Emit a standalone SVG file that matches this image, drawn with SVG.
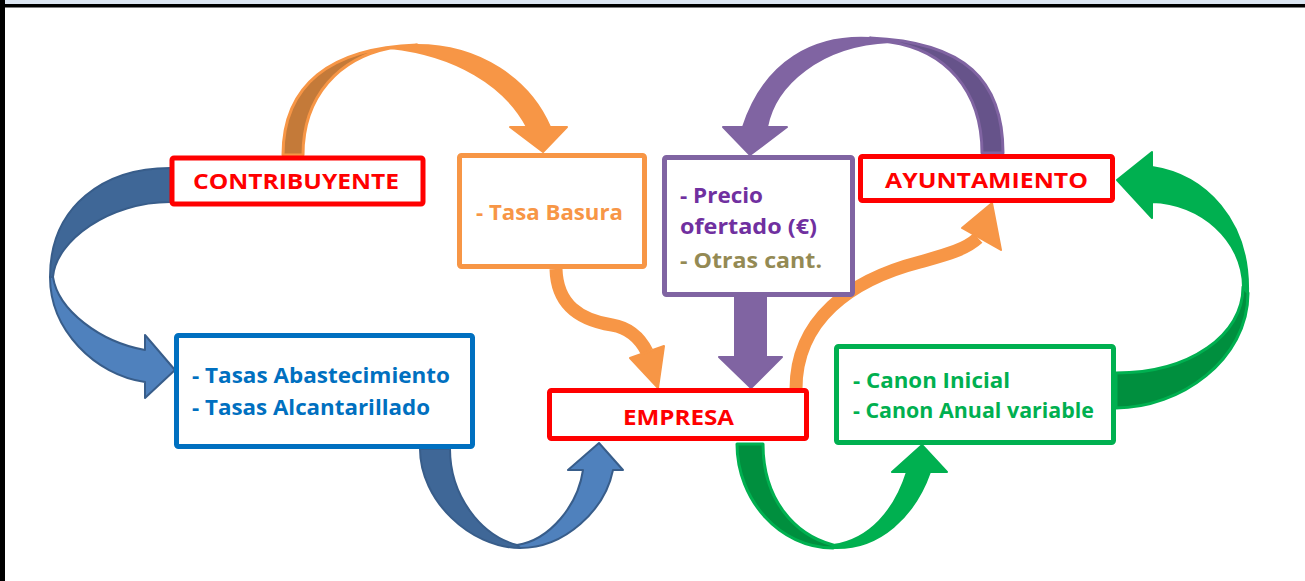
<svg xmlns="http://www.w3.org/2000/svg" width="1305" height="581" viewBox="0 0 1305 581">
<style>
.box{fill:#fff;stroke-width:5}
.t{font-family:"Open Sans","Liberation Sans",sans-serif;font-weight:700;font-size:21px}
.red{stroke:#ff0000}
.bl{fill:#4f81bd;stroke:#385d8a;stroke-width:2;stroke-linejoin:round}
.bld{fill:#3f6797;stroke:#385d8a;stroke-width:2;stroke-linejoin:round}
.gr{fill:#00b050;stroke:#00b050;stroke-width:2;stroke-linejoin:round}
.grd{fill:#008f3e;stroke:#00b050;stroke-width:3;stroke-linejoin:round}
.or{fill:#f79646;stroke:#f79646;stroke-width:2;stroke-linejoin:round}
.ord{fill:#c47a39;stroke:#f79646;stroke-width:3;stroke-linejoin:round}
.pu{fill:#8064a2;stroke:#8064a2;stroke-width:2;stroke-linejoin:round}
.pud{fill:#66538a;stroke:#8064a2;stroke-width:3;stroke-linejoin:round}
.ol{fill:none;stroke:#f79646;stroke-width:13}
</style>
<rect x="0" y="0" width="1305" height="581" fill="#fff"/>
<rect x="0" y="0" width="1305" height="4" fill="#dce6f2"/>
<rect x="0" y="4" width="1305" height="3.5" fill="#000"/>
<rect x="0" y="0" width="5" height="581" fill="#000"/>

<g id="connectors">
  <!-- blue left: CONTRIBUYENTE -> Tasas -->
  <path class="bld" d="M170,168 C105,168 50,205 50,277 L53,277 C56,240 110,202 170,202 Z"/>
  <path class="bl" d="M50,277 C50,330 95,375 145,382 L145,398 L175,370 L145,335 L145,350 C100,342 58,310 53,277 Z"/>
  <!-- blue bottom: Tasas -> EMPRESA -->
  <path class="bld" d="M420,449 C420,500 470,548 520,548 L517,545 C480,535 450,495 450,449 Z"/>
  <path class="bl" d="M520,548 C565,548 605,510 613,470 L623,470 L599,443 L568,470 L583,470 C578,505 550,540 517,545 Z"/>
  <!-- green bottom: EMPRESA -> Canon -->
  <path class="grd" d="M737,444 C737,500 780,548 833,548 L833,545 C795,535 763,500 763,444 Z"/>
  <path class="gr" d="M833,548 C880,550 915,515 930,472 L947,472 L922,445 L892,472 L907,472 C895,510 870,540 833,545 Z"/>
  <!-- green right: Canon -> AYUNTAMIENTO -->
  <path class="grd" d="M1116,408 C1180,408 1248,360 1248,293 L1243,287 C1243,335 1190,373 1116,373 Z"/>
  <path class="gr" d="M1248,293 C1250,220 1205,175 1152,167 L1152,152 L1117,180 L1152,218 L1152,202 C1200,203 1243,240 1243,287 Z"/>
  <!-- orange top: CONTRIBUYENTE -> Tasa Basura -->
  <path class="ord" d="M283,155 C283,85 330,48 417,45 L390,48 C340,58 303,95 303,155 Z"/>
  <path class="or" d="M417,45 C480,45 530,80 550,127 L567,127 L543,152 L510,127 L527,127 C505,85 455,55 390,48 Z"/>
  <!-- purple top: AYUNTAMIENTO -> Precio -->
  <path class="pud" d="M1003,153 C1003,80 965,42 870,38 L890,42 C945,50 982,90 982,153 Z"/>
  <path class="pu" d="M870,38 C815,35 765,60 743,127 L723,127 L750,155 L787,127 L767,127 C775,85 820,45 890,42 Z"/>
  <!-- orange S: Tasa Basura -> EMPRESA -->
  <path class="ol" d="M556,269 C557,305 580,320 612,325 C630,328 640,338 647,352"/>
  <polygon class="or" points="630,358 664,346 658,388"/>
  <!-- purple down: Precio -> EMPRESA -->
  <polygon class="pu" points="735,297 766,297 766,357 782,357 751,388 719,357 735,357"/>
  <!-- orange arc: EMPRESA -> AYUNTAMIENTO -->
  <path class="ol" d="M796,389 C796,320 850,280 920,262 C945,255 965,250 978,238"/>
  <polygon class="or" points="962,228 1001,250 992,203"/>
</g>

<g id="contribuyente">
  <rect class="box red" x="172" y="158" width="251" height="46" rx="2"/>
  <text class="t" x="193" y="189" fill="#ff0000" textLength="206" lengthAdjust="spacingAndGlyphs">CONTRIBUYENTE</text>
</g>
<g id="tasa-basura">
  <rect class="box" x="459.5" y="155.5" width="185" height="111" rx="2" stroke="#f79646"/>
  <text class="t" x="476" y="220" fill="#f79646" textLength="147" lengthAdjust="spacingAndGlyphs">- Tasa Basura</text>
</g>
<g id="precio">
  <rect class="box" x="664.5" y="157.5" width="188" height="137" rx="2" stroke="#8064a2"/>
  <text class="t" x="680" y="203" fill="#7030a0" textLength="83" lengthAdjust="spacingAndGlyphs">- Precio</text>
  <text class="t" x="680" y="234" fill="#7030a0" textLength="137" lengthAdjust="spacingAndGlyphs">ofertado (€)</text>
  <text class="t" x="680" y="268" fill="#948a54" textLength="142" lengthAdjust="spacingAndGlyphs">- Otras cant.</text>
</g>
<g id="ayuntamiento">
  <rect class="box red" x="860.5" y="156.5" width="252" height="44" rx="2"/>
  <text class="t" x="885" y="188" fill="#ff0000" textLength="203" lengthAdjust="spacingAndGlyphs">AYUNTAMIENTO</text>
</g>
<g id="tasas">
  <rect class="box" x="176.5" y="335.5" width="296" height="111" rx="2" stroke="#0070c0"/>
  <text class="t" x="192" y="383" fill="#0070c0" textLength="258" lengthAdjust="spacingAndGlyphs">- Tasas Abastecimiento</text>
  <text class="t" x="192" y="415" fill="#0070c0" textLength="238" lengthAdjust="spacingAndGlyphs">- Tasas Alcantarillado</text>
</g>
<g id="empresa">
  <rect class="box red" x="549.5" y="390.5" width="257" height="48" rx="2"/>
  <text class="t" x="623" y="425" fill="#ff0000" textLength="111" lengthAdjust="spacingAndGlyphs">EMPRESA</text>
</g>
<g id="canon">
  <rect class="box" x="836.5" y="346.5" width="277" height="96" rx="2" stroke="#00b050"/>
  <text class="t" x="853" y="388" fill="#00b050" textLength="157" lengthAdjust="spacingAndGlyphs">- Canon Inicial</text>
  <text class="t" x="853" y="418" fill="#00b050" textLength="241" lengthAdjust="spacingAndGlyphs">- Canon Anual variable</text>
</g>
</svg>
